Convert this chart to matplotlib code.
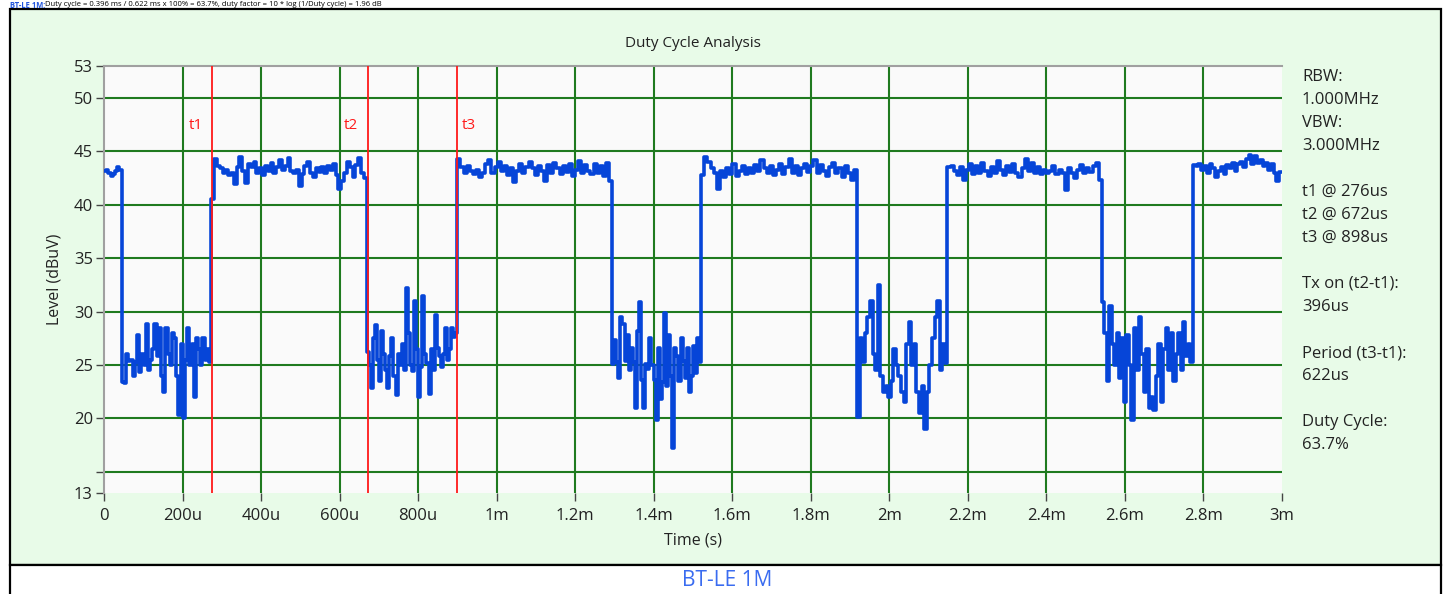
import matplotlib.pyplot as plt
from matplotlib.patches import Rectangle
import numpy as np

# level trace, one list per burst / gap (dBuV)
# segment edges in microseconds
seg_edges = [0, 45, 273, 669, 900, 1294, 1521, 1918, 2148, 2541, 2773, 3000]

on1 = [43.2, 43.3, 43.0, 42.7, 42.9, 43.2, 43.5, 43.3]
off1 = [23.4, 23.3, 26.0, 25.4, 25.5, 24.0, 25.3, 27.8, 24.3, 26.0, 25.0, 28.8, 24.5, 25.5,
        26.5, 28.8, 25.8, 28.5, 24.0, 22.5, 28.5, 26.0, 25.0, 28.0, 27.5, 24.0, 20.3, 27.0,
        20.0, 25.5, 28.5, 25.0, 27.0, 22.0, 27.5, 26.5, 25.0, 27.5, 25.5, 26.5, 25.3]
on2 = [40.5, 44.3, 43.6, 43.4, 43.0, 43.3, 42.8, 43.0, 41.9, 43.5, 44.5, 43.2, 42.0, 43.8,
       43.5, 44.0, 43.0, 43.4, 42.8, 43.6, 43.2, 43.9, 43.0, 43.5, 44.2, 43.3, 43.6, 44.4,
       43.2, 43.0, 43.3, 41.8, 42.9, 43.6, 44.0, 43.0, 42.6, 43.4, 43.1, 43.5, 43.0, 43.6,
       43.3, 43.8, 42.8, 41.5, 42.2, 43.0, 44.0, 43.5, 42.6, 43.7, 44.4, 43.0, 42.5]
off2 = [26.2, 25.0, 22.8, 27.5, 28.7, 25.5, 23.5, 28.2, 26.0, 24.5, 22.8, 25.8, 27.5, 24.0,
        22.2, 26.0, 25.0, 27.0, 24.5, 32.2, 28.0, 25.0, 24.4, 31.0, 26.5, 22.0, 24.8, 31.5,
        26.0, 25.2, 22.3, 26.5, 24.5, 29.7, 26.6, 25.8, 24.8, 26.0, 28.5, 25.5, 26.5, 28.5,
        27.6, 28.0]
on3 = [44.3, 43.5, 43.0, 43.6, 43.2, 42.9, 43.3, 42.6, 43.0, 43.8, 44.2, 43.0, 43.5, 44.0,
       43.2, 43.6, 42.8, 43.4, 42.1, 43.2, 43.8, 43.0, 43.5, 44.0, 43.4, 42.8, 43.6, 43.2,
       42.2, 43.7, 43.0, 43.9, 43.4, 42.9, 43.6, 43.1, 43.8, 42.7, 43.3, 44.1, 43.0, 43.7,
       43.2, 42.9, 43.8, 43.0, 43.6, 42.7, 43.9, 42.2]
off3 = [25.1, 27.3, 25.3, 23.8, 29.5, 28.8, 25.4, 27.8, 24.5, 26.6, 25.3, 21.0, 28.2, 30.9,
        23.6, 21.0, 25.1, 24.6, 27.5, 25.0, 23.6, 19.8, 26.6, 21.8, 23.4, 29.9, 23.0, 27.8,
        24.0, 17.2, 26.6, 25.8, 23.5, 27.5, 25.4, 23.8, 26.6, 22.5, 24.0, 26.8, 24.2, 27.5,
        25.3]
on4 = [42.8, 44.5, 44.0, 43.4, 43.0, 41.5, 43.2, 42.6, 43.4, 42.9, 43.8, 42.7, 43.2, 43.6,
       42.9, 43.4, 43.0, 43.7, 43.2, 44.2, 43.4, 43.0, 43.6, 42.8, 43.3, 43.8, 42.9, 43.5,
       44.3, 43.0, 43.6, 42.8, 43.4, 43.8, 43.1, 43.6, 44.2, 43.0, 43.7, 43.2, 42.7, 43.5,
       43.9, 43.0, 43.4, 42.6, 43.6, 43.0, 42.3, 43.3]
off4 = [20.1, 27.5, 25.3, 28.0, 29.5, 31.0, 26.0, 24.5, 32.5, 24.0, 22.5, 23.0, 22.0, 23.5,
        26.5, 25.0, 24.0, 22.5, 21.5, 27.0, 29.0, 25.0, 27.0, 22.5, 20.5, 23.0, 19.0, 22.5,
        25.0, 27.5, 29.5, 31.0, 24.5, 27.0, 25.2]
on5 = [43.5, 43.6, 43.2, 42.8, 43.5, 42.3, 43.3, 43.8, 42.9, 43.6, 43.0, 43.9, 43.2, 42.7,
       43.5, 43.0, 44.1, 43.3, 42.8, 43.6, 43.1, 43.8, 43.0, 42.6, 43.4, 44.3, 43.2, 43.9,
       43.0, 43.5, 42.9, 43.3, 43.0, 43.2, 43.6, 42.9, 43.3, 43.0, 41.4, 43.4, 43.0, 42.5,
       43.3, 43.7, 43.0, 43.4, 43.1, 43.6, 43.9, 42.3]
off5 = [30.9, 28.0, 23.5, 30.5, 27.0, 25.0, 28.0, 23.8, 27.5, 21.5, 27.8, 25.0, 19.8, 28.5,
        24.5, 29.5, 26.0, 22.5, 26.5, 21.0, 22.0, 20.8, 24.0, 27.0, 21.5, 26.5, 28.5, 24.5,
        28.0, 23.5, 26.0, 28.0, 24.5, 29.0, 25.8, 27.0, 25.3]
on6 = [43.7, 43.6, 43.8, 43.3, 43.6, 43.0, 43.8, 43.4, 42.6, 43.2, 43.5, 42.9, 43.7, 43.4,
       43.9, 43.2, 43.8, 44.0, 43.5, 44.3, 44.7, 43.8, 44.6, 43.9, 44.2, 43.6, 43.9, 43.3,
       43.8, 43.0, 42.2, 43.1]
segments = [on1, off1, on2, off2, on3, off3, on4, off4, on5, off5, on6]

# markers (us)
marker_names = ['t1', 't2', 't3']
marker_times = [276, 672, 898]

xtick_us = [0, 200, 400, 600, 800, 1000, 1200, 1400, 1600, 1800, 2000, 2200, 2400, 2600, 2800, 3000]
xtick_labels = ['0', '200u', '400u', '600u', '800u', '1m', '1.2m', '1.4m', '1.6m', '1.8m',
                '2m', '2.2m', '2.4m', '2.6m', '2.8m', '3m']
ytick_vals = [13, 15, 20, 25, 30, 35, 40, 45, 50, 53]
ytick_labels = ['13', '', '20', '25', '30', '35', '40', '45', '50', '53']

info_lines = ['RBW:', '1.000MHz', 'VBW:', '3.000MHz', '', 't1 @ 276us', 't2 @ 672us',
              't3 @ 898us', '', 'Tx on (t2-t1):', '396us', '', 'Period (t3-t1):', '622us',
              '', 'Duty Cycle:', '63.7%']

plt.rcParams['font.family'] = ['Open Sans', 'DejaVu Sans']

# build the stepped trace
t_all, lvl_all = [], []
for i, vals in enumerate(segments):
    ts = np.linspace(seg_edges[i], seg_edges[i + 1], len(vals), endpoint=False)
    t_all.extend(ts)
    lvl_all.extend(vals)
t_all.append(seg_edges[-1])
lvl_all.append(segments[-1][-1])
t_all = np.array(t_all) * 1e-6

fig = plt.figure(figsize=(14.52, 5.94), dpi=100, facecolor='white')

# green panel with black frame, and caption cell below
fig.patches.append(Rectangle((10 / 1452, 1 - 565 / 594), 1431 / 1452, 556 / 594,
                             transform=fig.transFigure, facecolor='#e8fbe8',
                             edgecolor='black', linewidth=1.6, zorder=-10))
fig.patches.append(Rectangle((10 / 1452, -0.05), 1431 / 1452, 0.05 + 29 / 594,
                             transform=fig.transFigure, facecolor='white',
                             edgecolor='black', linewidth=1.6, zorder=-10))

ax = fig.add_axes([104 / 1452, 1 - 493 / 594, 1178 / 1452, 427 / 594])
ax.set_zorder(1)
ax.set_facecolor('#fafafa')

for xv in xtick_us[1:-1]:
    ax.axvline(xv * 1e-6, color='#1f7a1f', linewidth=1.5, zorder=1)
for yv in ytick_vals[1:-1]:
    ax.axhline(yv, color='#1f7a1f', linewidth=1.5, zorder=1)

ax.plot(t_all, lvl_all, drawstyle='steps-post', color='#0645d8', linewidth=2.6, zorder=3)

for name, tm in zip(marker_names, marker_times):
    ax.axvline(tm * 1e-6, color='#ff1a1a', linewidth=1.3, zorder=4)
    if name == 't3':
        ax.annotate(name, (tm * 1e-6, 47.4), xytext=(4, 0), textcoords='offset points',
                    ha='left', va='center', color='#ff1a1a', fontsize=11)
    else:
        ax.annotate(name, (tm * 1e-6, 47.4), xytext=(-7, 0), textcoords='offset points',
                    ha='right', va='center', color='#ff1a1a', fontsize=11)

ax.set_xlim(0, 3e-3)
ax.set_ylim(13, 53)
ax.set_xticks(np.array(xtick_us) * 1e-6)
ax.set_xticklabels(xtick_labels)
ax.set_yticks(ytick_vals)
ax.set_yticklabels(ytick_labels)
ax.tick_params(axis='both', direction='out', length=6, width=1, color='#444444',
               labelsize=12, labelcolor='#222222')
ax.tick_params(axis='y', pad=2)
ax.tick_params(axis='x', pad=5)
for s in ['right', 'bottom']:
    ax.spines[s].set_visible(False)
for s in ['left', 'top']:
    ax.spines[s].set_color('#a0a0a0')
    ax.spines[s].set_linewidth(1.5)

ax.set_title('Duty Cycle Analysis', fontsize=11, color='#222222', pad=14)
ax.set_xlabel('Time (s)', fontsize=11.5, color='#222222', labelpad=6)
ax.set_ylabel('Level (dBuV)', fontsize=11.5, color='#222222', labelpad=8)

# side panel with measurement readout
for i, line in enumerate(info_lines):
    fig.text(1302 / 1452, 1 - (77 + i * 23) / 594, line, fontsize=12, color='#222222',
             ha='left', va='center')

fig.text(727 / 1452, 1 - 580 / 594, 'BT-LE 1M', fontsize=15, color='#3a6cf0',
         ha='center', va='center')

# header line above the frame (squeezed into the strip above the frame)
fig.text(10 / 1452, 1 - 0.5 / 594, 'BT-LE 1M:', fontsize=5.5, color='#2255dd',
         fontweight='bold', ha='left', va='top')
fig.text(45 / 1452, 1 - 0.5 / 594,
         'Duty cycle = 0.396 ms / 0.622 ms x 100% = 63.7%, duty factor = 10 * log (1/Duty cycle) = 1.96 dB',
         fontsize=5.5, color='black', ha='left', va='top')

plt.savefig('out.png', dpi=100, facecolor='white')
